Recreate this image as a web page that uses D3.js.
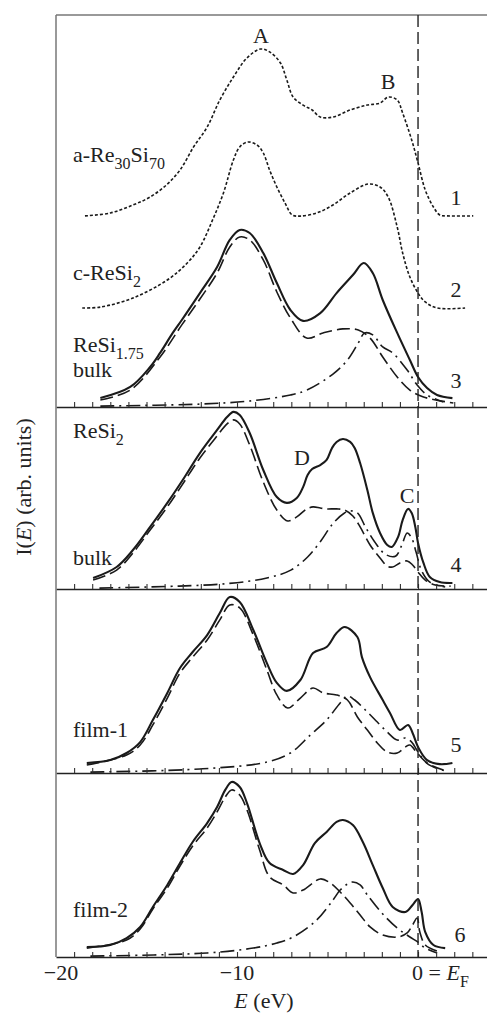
<!DOCTYPE html>
<html>
<head>
<meta charset="utf-8">
<script src="https://cdn.jsdelivr.net/npm/d3@7"></script>
<style>
  body { margin: 0; background: #fff; }
  text { font-family: "Liberation Serif", "Times New Roman", serif; fill: #222; }
</style>
</head>
<body>
<script>
// spectra, [E (eV), I (arb. units)]
// panel 1: curves 1 and 2 are shifted up by stackOffsets
const amorphous = [[-18.4,0],[-17.0,1.6],[-15.75,6],[-14.8,10.4],[-13.9,17],[-13.15,25.2],[-12.4,37.9],[-11.65,48.8],[-10.95,63.7],[-10.2,76.3],[-9.45,86.8],[-8.7,91.7],[-8.2,90.1],[-7.6,84],[-7.25,74.7],[-6.9,65.3],[-6.35,60.9],[-5.85,58.2],[-5.4,54.3],[-4.7,54.3],[-3.75,58.2],[-2.8,60.9],[-2.1,62],[-1.65,65.3],[-1.15,63.7],[-0.85,56.5],[-0.35,41.7],[0,29.1],[0.4,14.2],[0.85,4.9],[1.2,0.5],[1.6,0],[3.05,0]]
const crystal = [[-18.55,0],[-17.55,0.5],[-15.75,5.5],[-13.85,15.4],[-12.75,24.7],[-12.05,33.5],[-11.35,48.4],[-10.75,63.2],[-10.2,81.3],[-9.85,88.5],[-9.4,91.2],[-8.9,89.6],[-8.55,85.2],[-8.2,75.8],[-7.8,66.5],[-7.35,57.7],[-6.95,51.1],[-6.5,50.5],[-5.6,52.2],[-4.7,56.6],[-3.75,63.2],[-2.75,68.1],[-2.1,66.5],[-1.65,61],[-1.15,44.5],[-0.85,30.2],[-0.45,17],[0,8.2],[0.4,3.3],[1.05,0],[2.6,0]]
const stackOffsets = [105, 54.4]

const bulk175Total = [[-17.55,4.9],[-15.9,11],[-14.8,22],[-14.25,29.7],[-13.55,40.7],[-13.05,47.8],[-12.05,62.6],[-11.1,76.9],[-10.4,91.8],[-9.85,97.3],[-9.3,95.6],[-8.55,84.6],[-7.8,68.1],[-7.05,53.3],[-6.35,47.3],[-5.4,51.6],[-4.5,62.6],[-3.6,72.5],[-3.0,79.1],[-2.5,73.6],[-1.95,58.8],[-1.15,40.7],[-0.45,25.8],[0,16.5],[0.5,10.4],[1.05,6.6],[1.9,4.9]]
const bulk175Dash = [[-17.55,3.8],[-15.9,9.3],[-14.25,27.5],[-13.05,45.1],[-12.05,59.3],[-11.1,73.6],[-10.4,87.9],[-9.85,93.4],[-9.3,91.8],[-8.55,80.8],[-7.8,63.2],[-7.05,48.9],[-6.15,37.9],[-5.25,40.7],[-4.15,42.9],[-3.3,42.3],[-2.65,37.9],[-1.95,27.5],[-1.15,16.5],[-0.45,9.3],[0.3,5.5],[1.95,2.2]]
const bulk175DashDot = [[-17.55,0.5],[-12.05,1.6],[-9.3,3.3],[-7.05,6.6],[-6.15,9.3],[-4.7,18.1],[-3.9,25.8],[-3.3,35.2],[-2.95,40.7],[-2.5,39.6],[-1.95,33],[-1.4,29.7],[-0.6,20.3],[-0.05,12.1],[0.5,6.6],[1.4,2.7]]

const bulk2Total = [[-17.95,6],[-16.65,12.1],[-15.75,21.4],[-14.8,34.1],[-13.85,47.3],[-13.0,59.9],[-12.05,74.7],[-11.1,87.4],[-10.55,94.5],[-10.2,97.3],[-9.85,95.6],[-9.3,85.7],[-8.55,65.4],[-7.8,50.5],[-7.25,47.3],[-6.7,50],[-6.35,56],[-6.1,62.6],[-5.85,65.9],[-5.4,68.1],[-5.05,70.9],[-4.75,77.5],[-4.5,80.8],[-4.15,82.4],[-3.75,80.8],[-3.5,77.5],[-3.2,69.2],[-2.8,54.4],[-2.5,41.8],[-2.1,30.8],[-1.7,24.2],[-1.45,23.1],[-1.1,28.6],[-0.85,37.9],[-0.55,44],[-0.35,41.8],[-0.15,34.1],[0,25.3],[0.3,14.3],[0.65,6.6],[1.2,3.8],[1.9,3.3]]
const bulk2Dash = [[-17.95,4.9],[-16.65,10.4],[-15.75,19.8],[-14.8,32.4],[-13.85,45.1],[-13.0,57.7],[-12.05,72],[-11.1,84.1],[-10.55,90.7],[-10.2,92.9],[-9.85,90.7],[-9.3,79.1],[-8.55,58.8],[-7.8,43.4],[-7.2,37.4],[-6.7,39.6],[-6.15,44],[-5.8,45.1],[-5.4,44.5],[-5.05,44],[-4.5,44],[-4.05,43.4],[-3.6,40.1],[-3.2,34.1],[-2.65,24.2],[-2.1,17],[-1.7,12.6],[-1.4,12.1],[-1.0,14.3],[-0.6,15.4],[-0.3,13.2],[0,9.3],[0.4,4.9],[0.95,2.2],[1.8,1.6]]
const bulk2DashDot = [[-17.6,0.5],[-13.2,1.6],[-10.5,3],[-8.35,6],[-7.0,10.5],[-6.1,17.6],[-5.4,26],[-4.7,36],[-4.1,41.5],[-3.75,42.9],[-3.35,41.8],[-2.9,34],[-2.4,26],[-1.8,19],[-1.25,18],[-0.9,24],[-0.6,30.8],[-0.35,28],[-0.1,20],[0.2,10],[0.65,3.8],[1.5,1.1]]

const film1Total = [[-18.3,5.5],[-17.0,7.1],[-16.1,11],[-15.35,17],[-14.65,29.1],[-13.85,44],[-13.15,57.7],[-12.45,66.5],[-11.65,75.8],[-10.95,87.9],[-10.4,96.7],[-9.85,94],[-9.1,78.6],[-8.35,60.4],[-7.8,49.5],[-7.25,45.1],[-6.5,51.1],[-5.8,65.9],[-5.05,69.2],[-4.5,76.9],[-4.05,80.2],[-3.35,74.7],[-3.1,63.7],[-2.65,52.7],[-1.95,40.1],[-1.55,33],[-1.0,23.6],[-0.55,26.4],[-0.3,22],[0,14.3],[0.5,7.1],[1.2,4.9],[1.9,5.5]]
const film1Dash = [[-18.3,4.4],[-16.1,9.9],[-15.35,15.4],[-14.65,26.4],[-13.85,41.2],[-13.15,54.9],[-12.45,63.7],[-11.65,73.1],[-10.95,84.1],[-10.4,92.3],[-9.85,90.7],[-9.1,75.8],[-8.35,56.6],[-7.8,42.9],[-7.2,35.7],[-6.5,41.2],[-5.8,46.7],[-5.25,44],[-4.5,42.9],[-3.9,40.1],[-3.35,30.8],[-2.8,23.6],[-2.25,16.5],[-1.7,11.5],[-1.15,11],[-0.7,14.3],[-0.45,15.4],[-0.05,11],[0.5,5.5],[1.4,1.6]]
const film1DashDot = [[-18.1,0.5],[-12.05,2.2],[-8.35,6],[-7.05,11],[-5.95,20.9],[-5.05,29.1],[-4.3,38.5],[-3.9,42.3],[-3.5,40.1],[-2.8,33.5],[-2.25,28],[-1.7,22.5],[-1.15,18.1],[-0.7,19.2],[-0.35,17],[0,11.5],[0.55,4.9],[1.5,1.1]]

const film2Total = [[-18.3,5.5],[-17.0,6.6],[-16.1,10.4],[-15.35,16.5],[-14.65,27.5],[-13.85,39.6],[-13.15,51.6],[-12.45,63.2],[-11.65,73.6],[-11.1,82.4],[-10.65,91.8],[-10.3,96.2],[-9.85,93.4],[-9.45,84.6],[-8.75,62.6],[-8.2,51.6],[-7.45,47.8],[-6.9,45.6],[-6.35,50.5],[-5.7,62.6],[-5.05,68.7],[-4.5,74.2],[-4.15,75.3],[-3.6,72.5],[-3.05,63.2],[-2.5,50.5],[-1.95,37.9],[-1.4,27.5],[-0.7,24.7],[-0.3,28.6],[0,31.9],[0.2,24.7],[0.4,13.7],[0.85,6.6],[1.5,4.9]]
const film2Dash = [[-18.3,4.9],[-16.1,9.3],[-15.35,15.4],[-14.65,26.4],[-13.85,37.9],[-13.15,50],[-12.45,61],[-11.65,70.9],[-11.1,79.7],[-10.65,87.9],[-10.3,91.8],[-9.85,89],[-9.45,80.8],[-8.75,58.8],[-8.2,44],[-7.45,39.6],[-6.9,35.2],[-6.35,36.8],[-5.4,42.9],[-4.85,40.7],[-4.3,35.7],[-3.75,29.7],[-3.2,23.1],[-2.65,16.5],[-1.95,12.1],[-1.1,11],[-0.6,13.2],[-0.3,17.6],[-0.05,21.4],[0.1,13.7],[0.4,6.6],[1.05,3.3]]
const film2DashDot = [[-18.1,0.5],[-11.65,2.2],[-9.1,4.9],[-7.8,7.7],[-6.9,11],[-5.6,20.3],[-4.7,31.3],[-4.3,36.8],[-3.9,40.1],[-3.6,41.2],[-3.2,39.6],[-2.8,34.1],[-2,24.2],[-1.15,15.9],[-0.45,11],[0,8.2],[0.4,4.9],[1.05,2.2]]

const energyTicks = d3.range(-19, 4)
const energyLabels = [-20, -10]

const width = 487, height = 1015
const plotLeft = 56, plotTop = 15, plotBottom = 957

const svg = d3.select("body").append("svg")
    .attr("width", width)
    .attr("height", height)

const x = d3.scaleLinear().domain([-20, 3.81]).range([plotLeft, width])

// panel frames (pixel top / bottom); 1 unit of intensity = 1.82 px
const pxPerUnit = 1.82
const panels = [
  {top: 15, bottom: 407, series: [
    {data: amorphous, offset: stackOffsets[0], style: "dot"},
    {data: crystal, offset: stackOffsets[1], style: "dot"},
    {data: bulk175Total, offset: 0, style: "solid"},
    {data: bulk175Dash, offset: 0, style: "dash"},
    {data: bulk175DashDot, offset: 0, style: "dashdot"}]},
  {top: 407, bottom: 589, series: [
    {data: bulk2Total, offset: 0, style: "solid"},
    {data: bulk2Dash, offset: 0, style: "dash"},
    {data: bulk2DashDot, offset: 0, style: "dashdot"}]},
  {top: 589, bottom: 773, series: [
    {data: film1Total, offset: 0, style: "solid"},
    {data: film1Dash, offset: 0, style: "dash"},
    {data: film1DashDot, offset: 0, style: "dashdot"}]},
  {top: 773, bottom: 957, series: [
    {data: film2Total, offset: 0, style: "solid"},
    {data: film2Dash, offset: 0, style: "dash"},
    {data: film2DashDot, offset: 0, style: "dashdot"}]}
]

const styles = {
  solid:   {w: 2.1, dash: null},
  dash:    {w: 1.6, dash: "13,5"},
  dashdot: {w: 1.6, dash: "14,5,2,5"},
  dot:     {w: 1.6, dash: "3,2"}
}

panels.forEach(function(p) {
  const y = d3.scaleLinear()
      .domain([0, (p.bottom - p.top) / pxPerUnit])
      .range([p.bottom, p.top])

  p.series.forEach(function(s) {
    const gen = d3.line()
        .x(function(d) { return x(d[0]) })
        .y(function(d) { return y(d[1] + s.offset) })
        .curve(d3.curveCatmullRom.alpha(0.5))
    svg.append("path")
        .attr("d", gen(s.data))
        .attr("fill", "none")
        .attr("stroke", "#1a1a1a")
        .attr("stroke-width", styles[s.style].w)
        .attr("stroke-dasharray", styles[s.style].dash)
        .attr("stroke-linejoin", "round")
  })

  // bottom line with inward ticks
  svg.append("g")
      .attr("transform", "translate(0," + p.bottom + ")")
      .call(d3.axisBottom(x).tickValues(energyTicks).tickSize(-5).tickSizeOuter(0).tickFormat(""))
      .call(function(g) { g.select(".domain").attr("stroke", "#222").attr("stroke-width", 1.4) })
      .call(function(g) { g.selectAll(".tick line").attr("stroke", "#333").attr("stroke-width", 1.1) })
})

// frame: top and left edges
svg.append("line").attr("x1", plotLeft).attr("x2", width).attr("y1", plotTop).attr("y2", plotTop)
    .attr("stroke", "#777").attr("stroke-width", 1.3)
svg.append("line").attr("x1", plotLeft).attr("x2", plotLeft).attr("y1", plotTop).attr("y2", plotBottom)
    .attr("stroke", "#777").attr("stroke-width", 1.5)

// Fermi level
svg.append("line").attr("x1", x(0)).attr("x2", x(0)).attr("y1", plotTop).attr("y2", plotBottom)
    .attr("stroke", "#222").attr("stroke-width", 1.4).attr("stroke-dasharray", "12,5")

const fs = 22
function label(tx, ty, parts, anchor) {
  const t = svg.append("text").attr("x", tx).attr("y", ty)
      .attr("font-size", fs).attr("text-anchor", anchor || "start")
  parts.forEach(function(pt) {
    const s = t.append("tspan").text(pt.t)
    if (pt.sub) s.attr("font-size", 16).attr("dy", 7)
    if (pt.up) s.attr("dy", -7)
    if (pt.it) s.attr("font-style", "italic")
  })
  return t
}

// curve names
label(73, 162, [{t: "a-Re"}, {t: "30", sub: true}, {t: "Si", up: true}, {t: "70", sub: true}])
label(73, 280, [{t: "c-ReSi"}, {t: "2", sub: true}])
label(73, 352, [{t: "ReSi"}, {t: "1.75", sub: true}])
label(73, 377, [{t: "bulk"}])
label(73, 438, [{t: "ReSi"}, {t: "2", sub: true}])
label(73, 565, [{t: "bulk"}])
label(73, 737, [{t: "film-1"}])
label(73, 917, [{t: "film-2"}])

// peak letters
label(261, 43, [{t: "A"}], "middle")
label(388, 89, [{t: "B"}], "middle")
label(302, 465, [{t: "D"}], "middle")
label(407, 503, [{t: "C"}], "middle")

// curve numbers
const curveNumbers = ["1", "2", "3", "4", "5", "6"]
const numberY = [205, 297, 388, 572, 752, 942]
curveNumbers.forEach(function(n, i) {
  label(i === 5 ? 460 : 456, numberY[i], [{t: n}], "middle")
})

// energy tick labels
energyLabels.forEach(function(v) {
  label(x(v) + (v === -20 ? 5 : 0), 980, [{t: "\u2212" + Math.abs(v)}], "middle")
})
label(x(0) - 6, 980, [{t: "0 = "}, {t: "E", it: true}, {t: "F", sub: true}])

// axis titles
label(264, 1008, [{t: "E", it: true}, {t: " (eV)"}], "middle")
label(0, 0, [{t: "I("}, {t: "E", it: true}, {t: ") (arb. units)"}], "middle")
    .attr("transform", "translate(31,487) rotate(-90)")
</script>
</body>
</html>
